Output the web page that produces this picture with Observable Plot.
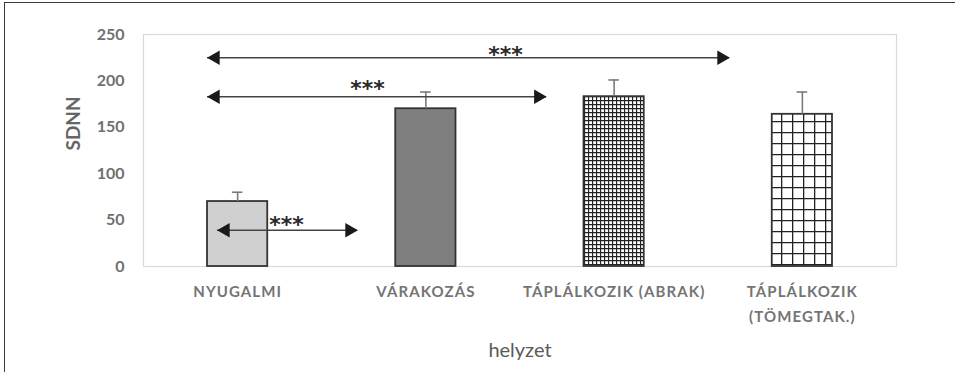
<!DOCTYPE html>
<html>
<head>
<meta charset="utf-8">
<script src="https://cdn.jsdelivr.net/npm/d3@7"></script>
<script src="https://cdn.jsdelivr.net/npm/@observablehq/plot@0.6"></script>
<style>
  html, body { margin: 0; padding: 0; background: #fff; }
  #wrap { position: relative; width: 955px; height: 372px; overflow: hidden; }
  #border { position: absolute; left: 4px; top: 2px; width: 1000px; height: 400px;
            border-left: 1.5px solid #3a3a3a; border-top: 1.5px solid #3a3a3a; pointer-events: none; }
  svg { font-family: Lato, "Open Sans", sans-serif; }
  .xax text { letter-spacing: 1.1px; }
</style>
</head>
<body>
<div id="wrap"><div id="border"></div></div>
<script>
// ---- data ----
const categories = ["NYUGALMI", "VÁRAKOZÁS", "TÁPLÁLKOZIK (ABRAK)", "TÁPLÁLKOZIK\n(TÖMEGTAK.)"];
const means = [70, 170, 183, 164];
const errors = [10, 18, 18, 24];
const yTicks = [0, 50, 100, 150, 200, 250];
// significance annotations (x in category-index units, y in SDNN units)
const arrowStart = [-0.16, -0.16, -0.107];
const arrowEnd = [2.613, 1.64, 0.637];
const arrowLevel = [225, 183, 39];
const starX = [1.423, 0.69, 0.26];
const starY = [233, 197, 50];
const starText = ["***", "***", "***"];
const yLabel = "SDNN";
const xLabel = "helyzet";

// ---- styles ----
const barFills = ["#d0d0d0", "#7f7f7f", "url(#gridFine)", "url(#gridCoarse)"];
const half = 0.16;

const rows = categories.map((c, i) => ({i, c, v: means[i], e: errors[i]}));
const arrows = arrowStart.map((s, k) => ({x1: s, x2: arrowEnd[k], y: arrowLevel[k]}));
const stars = starX.map((x, k) => ({x, y: starY[k], t: starText[k]}));

const chart = Plot.plot({
  width: 955,
  height: 372,
  marginLeft: 143,
  marginRight: 59,
  marginTop: 34,
  marginBottom: 106,
  x: {domain: [-0.5, 3.5]},
  y: {domain: [0, 250]},
  marks: [
    Plot.frame({stroke: "#d9d9d9", strokeWidth: 1.2}),
    ...rows.map(r => Plot.rectY([r], {
      x1: d => d.i - half, x2: d => d.i + half, y1: 0, y2: "v",
      fill: barFills[r.i], stroke: "#333", strokeWidth: 1.8
    })),
    Plot.ruleX(rows, {x: "i", y1: "v", y2: d => d.v + d.e, stroke: "#7a7a7a", strokeWidth: 1.6}),
    Plot.ruleY(rows, {x1: d => d.i - 0.028, x2: d => d.i + 0.028, y: d => d.v + d.e, stroke: "#7a7a7a", strokeWidth: 1.6}),
    Plot.ruleY(arrows, {x1: "x1", x2: "x2", y: "y", stroke: "#444", strokeWidth: 1.6}),
    Plot.dot(arrows, {x: "x1", y: "y", symbol: "triangle", rotate: -90, r: 5.4, fill: "#1a1a1a", stroke: null, dx: 8}),
    Plot.dot(arrows, {x: "x2", y: "y", symbol: "triangle", rotate: 90, r: 5.4, fill: "#1a1a1a", stroke: null, dx: -8}),
    Plot.text(stars, {x: "x", y: "y", text: "t", fontSize: 22, fontWeight: "bold", fill: "#2a2a2a",
      fontFamily: "DejaVu Sans", lineAnchor: "middle", dy: 5}),
    Plot.axisY({ticks: yTicks, tickSize: 0, tickPadding: 19, fontSize: 16, fontWeight: "bold", fill: "#707070", label: null}),
    Plot.axisX({ticks: [0, 1, 2, 3], tickFormat: i => categories[i], tickSize: 0, tickPadding: 13,
      fontSize: 15, fontWeight: "bold", fill: "#747474", lineHeight: 1.65, label: null, className: "xax"}),
    Plot.text([yLabel], {frameAnchor: "left", text: d => d, rotate: -90, dx: -70, fontSize: 19, fontWeight: "bold", fill: "#666"}),
    Plot.text([xLabel], {frameAnchor: "bottom", text: d => d, dy: 84, fontSize: 20, fill: "#5a5a5a", lineAnchor: "middle"})
  ]
});

// patterns
const ns = "http://www.w3.org/2000/svg";
const defs = document.createElementNS(ns, "defs");
function grid(id, size, sw, color) {
  const p = document.createElementNS(ns, "pattern");
  p.setAttribute("id", id);
  p.setAttribute("patternUnits", "userSpaceOnUse");
  p.setAttribute("width", size);
  p.setAttribute("height", size);
  const bg = document.createElementNS(ns, "rect");
  bg.setAttribute("width", size); bg.setAttribute("height", size); bg.setAttribute("fill", "#fff");
  p.appendChild(bg);
  const path = document.createElementNS(ns, "path");
  path.setAttribute("d", `M0,0.5H${size}M0.5,0V${size}`);
  path.setAttribute("stroke", color);
  path.setAttribute("stroke-width", sw);
  path.setAttribute("fill", "none");
  p.appendChild(path);
  defs.appendChild(p);
}
grid("gridFine", 4, 1.3, "#222");
grid("gridCoarse", 11, 1.6, "#222");
chart.insertBefore(defs, chart.firstChild);

document.getElementById("wrap").insertBefore(chart, document.getElementById("border"));
chart.style.position = "absolute";
chart.style.left = "0";
chart.style.top = "0";
</script>
</body>
</html>
